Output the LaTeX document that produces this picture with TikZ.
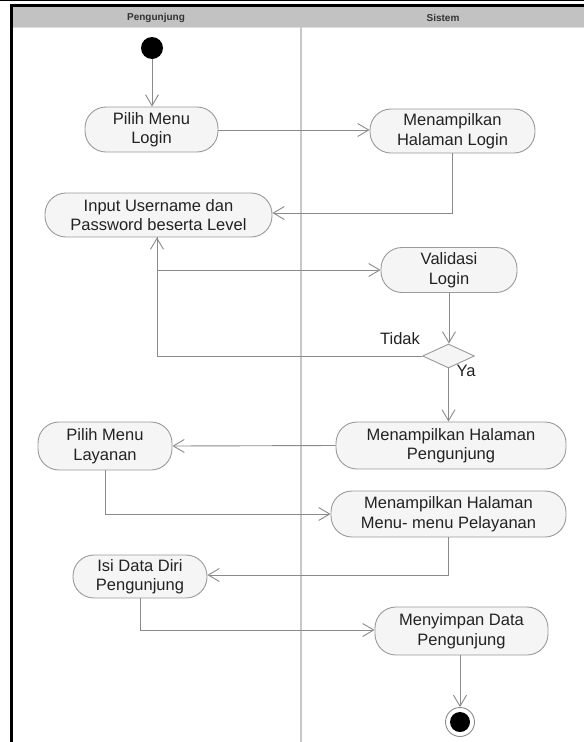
\documentclass[tikz,border=0pt]{standalone}
\usepackage{fontspec}
\setmainfont{Liberation Sans}
\usetikzlibrary{arrows.meta,shapes.geometric,calc}
\definecolor{lanegray}{HTML}{C2C2C2}
\definecolor{divgray}{HTML}{C8C8C8}
\definecolor{edgegray}{HTML}{8A8A8A}
\definecolor{boxgray}{HTML}{9A9A9A}
\definecolor{boxfill}{HTML}{F5F5F5}
\definecolor{txt}{HTML}{222222}
\tikzset{
  act/.style={draw=boxgray, fill=boxfill, line width=0.9pt, rounded corners=21pt,
    inner sep=0pt, align=center, text=txt,
    font=\fontsize{16.5}{19.5}\selectfont},
  flow/.style={draw=edgegray, line width=0.9pt,
    -{Straight Barb[length=11pt,width=13pt,line width=0.9pt]}},
  lbl/.style={text=txt, font=\fontsize{16.5}{19.5}\selectfont, inner sep=0pt},
  lanehead/.style={text=black!80, font=\fontsize{10}{12}\selectfont\bfseries, inner sep=0pt}
}
\begin{document}
\begin{tikzpicture}[x=1pt,y=-1pt]
\useasboundingbox (0,0) rectangle (584,742);
% swimlane frame
\fill[lanegray] (12.5,7) rectangle (584,26.5);
\fill[divgray!60] (12.5,26.5) rectangle (584,28);
\draw[line width=1.3pt] (0,0.7) -- (584,0.7);
\draw[line width=3pt] (11,742) -- (11,5.3) -- (584,5.3);
\draw[divgray, line width=2pt] (301,26.5) -- (301,742);
\node[lanehead] (h1) at (156,17.5) {Pengunjung};
\node[lanehead] (h2) at (443,17.5) {Sistem};

% start and end
\node[circle, fill=black, minimum size=22pt, inner sep=0pt] (start) at (152,48) {};
\node[circle, draw=edgegray, fill=white, line width=0.9pt, minimum size=29pt, inner sep=0pt] (end) at (460,722) {};
\fill[black] (end.center) circle (10pt);

% activities
\node[act, minimum width=133pt, minimum height=45pt] (pml) at (151.5,129.5) {Pilih Menu\\Login};
\node[act, minimum width=165pt, minimum height=44pt] (mhl) at (452.5,131) {Menampilkan\\Halaman Login};
\node[act, minimum width=227pt, minimum height=44pt] (inp) at (158.5,215) {Input Username dan\\Password beserta Level};
\node[act, minimum width=136pt, minimum height=45pt] (val) at (449,270) {Validasi\\Login};
\node[diamond, draw=boxgray, fill=boxfill, line width=0.9pt, minimum width=52pt, minimum height=24pt,
  inner sep=0pt, aspect=2.2] (dec) at (448.5,356) {};
\node[act, minimum width=230pt, minimum height=47pt] (mhp) at (451,445.5) {Menampilkan Halaman\\Pengunjung};
\node[act, minimum width=134pt, minimum height=48pt] (pmly) at (105,446) {Pilih Menu\\Layanan};
\node[act, minimum width=235pt, minimum height=46pt] (mhm) at (448.5,514) {Menampilkan Halaman\\Menu- menu Pelayanan};
\node[act, minimum width=134pt, minimum height=43pt] (isi) at (140,576.5) {Isi Data Diri\\Pengunjung};
\node[act, minimum width=173pt, minimum height=48pt] (sim) at (461.5,631) {Menyimpan Data\\Pengunjung};

% guard labels
\node[lbl] (tidak) at (400,339) {Tidak};
\node[lbl] (ya) at (466,371) {Ya};

% control flow
\draw[flow] (start) -- (start |- pml.north);
\draw[flow] (pml.east |- 0,130) -- (mhl.west |- 0,130);
\draw[flow] (mhl.south) |- (inp.east |- 0,213);
\draw[flow] (inp.south -| 157,0) |- (val.west);
\draw[flow] (dec.west) -| (inp.south -| 157,0);
\draw[flow] (val.south) -- (val.south |- dec.north);
\draw[flow] (dec.south) -- (dec.south |- mhp.north);
\draw[flow] (mhp.west) -- (pmly.east);
\draw[flow] (pmly.south) |- (mhm.west);
\draw[flow] (mhm.south) |- (isi.east |- 0,575);
\draw[flow] (isi.south) |- (sim.west |- 0,630);
\draw[flow] (sim.south -| end.north) -- (end.north);
\end{tikzpicture}
\end{document}
